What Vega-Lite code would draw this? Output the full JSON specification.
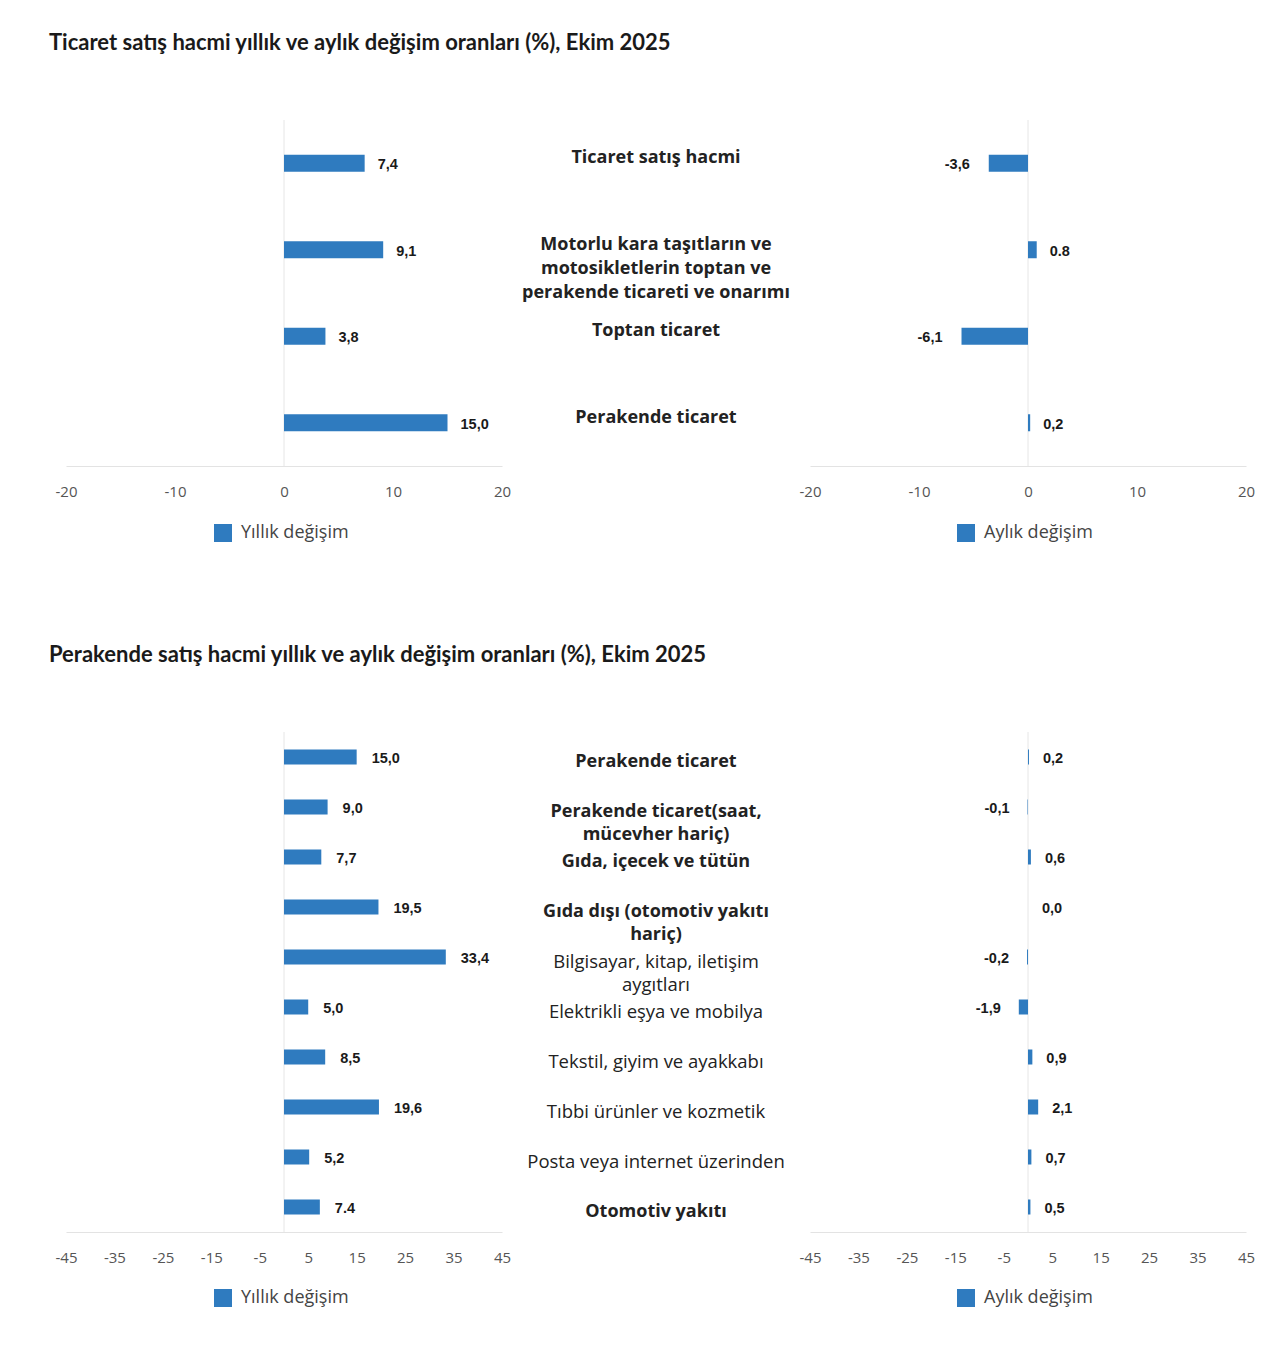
{
  "$schema": "https://vega.github.io/schema/vega-lite/v6.json",
  "background": "white",
  "padding": {"left": 49, "top": 31, "right": 10, "bottom": 30},
  "config": {
    "locale": {"number": {"decimal": ".", "thousands": ",", "grouping": [3], "currency": ["", ""], "minus": "-"}},
    "view": {"stroke": null},
    "font": "Open Sans",
    "axis": {"domainColor": "#e3e3e3", "domainWidth": 1, "ticks": false, "grid": false, "labelColor": "#555555", "labelFont": "Open Sans", "labelFontSize": 15, "labelPadding": 18, "title": null, "labelFlush": false},
    "legend": {"orient": "none", "symbolType": "square", "symbolSize": 324, "symbolStrokeWidth": 0, "labelFont": "Open Sans", "labelFontSize": 18, "labelColor": "#444444", "labelOffset": 9, "title": null},
    "title": {"font": "Lato", "fontSize": 22, "fontWeight": "bold", "color": "#1a1a1a", "anchor": "start", "frame": "group", "dx": -17, "offset": 65}
  },
  "datasets": {
    "ticaret": [
      {"kategori": "Ticaret satış hacmi", "etiket": "Ticaret satış hacmi", "yillik": 7.4, "yillik_metin": "7,4", "aylik": -3.6, "aylik_metin": "-3,6"},
      {"kategori": "Motorlu kara taşıtların ve motosikletlerin toptan ve perakende ticareti ve onarımı", "etiket": "Motorlu kara taşıtların ve\nmotosikletlerin toptan ve\nperakende ticareti ve onarımı", "yillik": 9.1, "yillik_metin": "9,1", "aylik": 0.8, "aylik_metin": "0.8"},
      {"kategori": "Toptan ticaret", "etiket": "Toptan ticaret", "yillik": 3.8, "yillik_metin": "3,8", "aylik": -6.1, "aylik_metin": "-6,1"},
      {"kategori": "Perakende ticaret", "etiket": "Perakende ticaret", "yillik": 15.0, "yillik_metin": "15,0", "aylik": 0.2, "aylik_metin": "0,2"}
    ],
    "perakende": [
      {"kategori": "Perakende ticaret", "etiket": "Perakende ticaret", "duzey": "ana", "yillik": 15.0, "yillik_metin": "15,0", "aylik": 0.2, "aylik_metin": "0,2"},
      {"kategori": "Perakende ticaret(saat, mücevher hariç)", "etiket": "Perakende ticaret(saat,\nmücevher hariç)", "duzey": "ana", "yillik": 9.0, "yillik_metin": "9,0", "aylik": -0.1, "aylik_metin": "-0,1"},
      {"kategori": "Gıda, içecek ve tütün", "etiket": "Gıda, içecek ve tütün", "duzey": "ana", "yillik": 7.7, "yillik_metin": "7,7", "aylik": 0.6, "aylik_metin": "0,6"},
      {"kategori": "Gıda dışı (otomotiv yakıtı hariç)", "etiket": "Gıda dışı (otomotiv yakıtı\nhariç)", "duzey": "ana", "yillik": 19.5, "yillik_metin": "19,5", "aylik": 0.0, "aylik_metin": "0,0"},
      {"kategori": "Bilgisayar, kitap, iletişim aygıtları", "etiket": "Bilgisayar, kitap, iletişim\naygıtları", "duzey": "alt", "yillik": 33.4, "yillik_metin": "33,4", "aylik": -0.2, "aylik_metin": "-0,2"},
      {"kategori": "Elektrikli eşya ve mobilya", "etiket": "Elektrikli eşya ve mobilya", "duzey": "alt", "yillik": 5.0, "yillik_metin": "5,0", "aylik": -1.9, "aylik_metin": "-1,9"},
      {"kategori": "Tekstil, giyim ve ayakkabı", "etiket": "Tekstil, giyim ve ayakkabı", "duzey": "alt", "yillik": 8.5, "yillik_metin": "8,5", "aylik": 0.9, "aylik_metin": "0,9"},
      {"kategori": "Tıbbi ürünler ve kozmetik", "etiket": "Tıbbi ürünler ve kozmetik", "duzey": "alt", "yillik": 19.6, "yillik_metin": "19,6", "aylik": 2.1, "aylik_metin": "2,1"},
      {"kategori": "Posta veya internet üzerinden", "etiket": "Posta veya internet üzerinden", "duzey": "alt", "yillik": 5.2, "yillik_metin": "5,2", "aylik": 0.7, "aylik_metin": "0,7"},
      {"kategori": "Otomotiv yakıtı", "etiket": "Otomotiv yakıtı", "duzey": "ana", "yillik": 7.4, "yillik_metin": "7.4", "aylik": 0.5, "aylik_metin": "0,5"}
    ]
  },
  "bounds": "flush",
  "spacing": 612,
  "resolve": {"scale": {"color": "independent", "x": "independent", "y": "independent"}, "legend": {"color": "independent"}},
  "vconcat": [
    {
      "title": {"text": "Ticaret satış hacmi yıllık ve aylık değişim oranları (%), Ekim 2025"},
      "bounds": "flush",
      "spacing": 0,
      "resolve": {"scale": {"color": "independent", "x": "independent", "y": "independent"}, "legend": {"color": "independent"}},
      "hconcat": [
        {
          "width": 436, "height": 346,
          "data": {"name": "ticaret"},
          "layer": [
            {"data": {"values": [{}]}, "mark": {"type": "rule", "color": "#e6e6e6", "strokeWidth": 1}, "encoding": {"x": {"datum": 0, "type": "quantitative", "scale": {"domain": [-20, 20], "nice": false, "zero": false}, "axis": {"values": [-20, -10, 0, 10, 20]}}}},
            {"mark": {"type": "bar", "size": 17}, "encoding": {
              "x": {"field": "yillik", "type": "quantitative", "scale": {"domain": [-20, 20], "nice": false, "zero": false}, "axis": {"values": [-20, -10, 0, 10, 20]}},
              "y": {"field": "kategori", "type": "nominal", "sort": null, "axis": null},
              "color": {"datum": "Yıllık değişim", "type": "nominal", "scale": {"range": ["#2f7bbf"]}, "legend": {"legendX": 148, "legendY": 404}}}},
            {"transform": [{"filter": "datum.yillik >= 0"}], "mark": {"type": "text", "align": "left", "baseline": "middle", "dx": 13, "dy": 2, "font": "Liberation Sans", "fontWeight": "bold", "fontSize": 14.5, "color": "#1a1a1a"}, "encoding": {
              "x": {"field": "yillik", "type": "quantitative"},
              "y": {"field": "kategori", "type": "nominal", "sort": null},
              "text": {"field": "yillik_metin"}}},
            {"transform": [{"filter": "datum.yillik < 0"}], "mark": {"type": "text", "align": "right", "baseline": "middle", "dx": -19, "dy": 2, "font": "Liberation Sans", "fontWeight": "bold", "fontSize": 14.5, "color": "#1a1a1a"}, "encoding": {
              "x": {"field": "yillik", "type": "quantitative"},
              "y": {"field": "kategori", "type": "nominal", "sort": null},
              "text": {"field": "yillik_metin"}}}
          ]
        },
        {
          "width": 308, "height": 346,
          "data": {"name": "ticaret"},
          "mark": {"type": "text", "font": "Open Sans", "fontWeight": "bold", "fontSize": 18, "baseline": "top", "dy": -14, "lineHeight": 24, "lineBreak": "\n", "color": "#222222"},
          "encoding": {
            "y": {"field": "kategori", "type": "nominal", "sort": null, "axis": null},
            "text": {"field": "etiket"}
          }
        },
        {
          "width": 436, "height": 346,
          "data": {"name": "ticaret"},
          "layer": [
            {"data": {"values": [{}]}, "mark": {"type": "rule", "color": "#e6e6e6", "strokeWidth": 1}, "encoding": {"x": {"datum": 0, "type": "quantitative", "scale": {"domain": [-20, 20], "nice": false, "zero": false}, "axis": {"values": [-20, -10, 0, 10, 20]}}}},
            {"mark": {"type": "bar", "size": 17}, "encoding": {
              "x": {"field": "aylik", "type": "quantitative", "scale": {"domain": [-20, 20], "nice": false, "zero": false}, "axis": {"values": [-20, -10, 0, 10, 20]}},
              "y": {"field": "kategori", "type": "nominal", "sort": null, "axis": null},
              "color": {"datum": "Aylık değişim", "type": "nominal", "scale": {"range": ["#2f7bbf"]}, "legend": {"legendX": 147, "legendY": 404}}}},
            {"transform": [{"filter": "datum.aylik >= 0"}], "mark": {"type": "text", "align": "left", "baseline": "middle", "dx": 13, "dy": 2, "font": "Liberation Sans", "fontWeight": "bold", "fontSize": 14.5, "color": "#1a1a1a"}, "encoding": {
              "x": {"field": "aylik", "type": "quantitative"},
              "y": {"field": "kategori", "type": "nominal", "sort": null},
              "text": {"field": "aylik_metin"}}},
            {"transform": [{"filter": "datum.aylik < 0"}], "mark": {"type": "text", "align": "right", "baseline": "middle", "dx": -19, "dy": 2, "font": "Liberation Sans", "fontWeight": "bold", "fontSize": 14.5, "color": "#1a1a1a"}, "encoding": {
              "x": {"field": "aylik", "type": "quantitative"},
              "y": {"field": "kategori", "type": "nominal", "sort": null},
              "text": {"field": "aylik_metin"}}}
          ]
        }
      ]
    },
    {
      "title": {"text": "Perakende satış hacmi yıllık ve aylık değişim oranları (%), Ekim 2025"},
      "bounds": "flush",
      "spacing": 0,
      "resolve": {"scale": {"color": "independent", "x": "independent", "y": "independent"}, "legend": {"color": "independent"}},
      "hconcat": [
        {
          "width": 436, "height": 500,
          "data": {"name": "perakende"},
          "layer": [
            {"data": {"values": [{}]}, "mark": {"type": "rule", "color": "#e6e6e6", "strokeWidth": 1}, "encoding": {"x": {"datum": 0, "type": "quantitative", "scale": {"domain": [-45, 45], "nice": false, "zero": false}, "axis": {"values": [-45, -35, -25, -15, -5, 5, 15, 25, 35, 45]}}}},
            {"mark": {"type": "bar", "size": 15}, "encoding": {
              "x": {"field": "yillik", "type": "quantitative", "scale": {"domain": [-45, 45], "nice": false, "zero": false}, "axis": {"values": [-45, -35, -25, -15, -5, 5, 15, 25, 35, 45]}},
              "y": {"field": "kategori", "type": "nominal", "sort": null, "axis": null},
              "color": {"datum": "Yıllık değişim", "type": "nominal", "scale": {"range": ["#2f7bbf"]}, "legend": {"legendX": 148, "legendY": 557}}}},
            {"transform": [{"filter": "datum.yillik >= 0"}], "mark": {"type": "text", "align": "left", "baseline": "middle", "dx": 15, "dy": 2, "font": "Liberation Sans", "fontWeight": "bold", "fontSize": 14.5, "color": "#1a1a1a"}, "encoding": {
              "x": {"field": "yillik", "type": "quantitative"},
              "y": {"field": "kategori", "type": "nominal", "sort": null},
              "text": {"field": "yillik_metin"}}},
            {"transform": [{"filter": "datum.yillik < 0"}], "mark": {"type": "text", "align": "right", "baseline": "middle", "dx": -16, "dy": 2, "font": "Liberation Sans", "fontWeight": "bold", "fontSize": 14.5, "color": "#1a1a1a"}, "encoding": {
              "x": {"field": "yillik", "type": "quantitative"},
              "y": {"field": "kategori", "type": "nominal", "sort": null},
              "text": {"field": "yillik_metin"}}}
          ]
        },
        {
          "width": 308, "height": 500,
          "data": {"name": "perakende"},
          "mark": {"type": "text", "font": "Open Sans", "fontWeight": {"expr": "datum.duzey == 'ana' ? 'bold' : 'normal'"}, "fontSize": {"expr": "datum.duzey == 'ana' ? 18 : 18.5"}, "baseline": "top", "dy": -4, "lineHeight": 23, "lineBreak": "\n", "color": "#222222"},
          "encoding": {
            "y": {"field": "kategori", "type": "nominal", "sort": null, "axis": null},
            "text": {"field": "etiket"}
          }
        },
        {
          "width": 436, "height": 500,
          "data": {"name": "perakende"},
          "layer": [
            {"data": {"values": [{}]}, "mark": {"type": "rule", "color": "#e6e6e6", "strokeWidth": 1}, "encoding": {"x": {"datum": 0, "type": "quantitative", "scale": {"domain": [-45, 45], "nice": false, "zero": false}, "axis": {"values": [-45, -35, -25, -15, -5, 5, 15, 25, 35, 45]}}}},
            {"mark": {"type": "bar", "size": 15}, "encoding": {
              "x": {"field": "aylik", "type": "quantitative", "scale": {"domain": [-45, 45], "nice": false, "zero": false}, "axis": {"values": [-45, -35, -25, -15, -5, 5, 15, 25, 35, 45]}},
              "y": {"field": "kategori", "type": "nominal", "sort": null, "axis": null},
              "color": {"datum": "Aylık değişim", "type": "nominal", "scale": {"range": ["#2f7bbf"]}, "legend": {"legendX": 147, "legendY": 557}}}},
            {"transform": [{"filter": "datum.aylik >= 0"}], "mark": {"type": "text", "align": "left", "baseline": "middle", "dx": 14, "dy": 2, "font": "Liberation Sans", "fontWeight": "bold", "fontSize": 14.5, "color": "#1a1a1a"}, "encoding": {
              "x": {"field": "aylik", "type": "quantitative"},
              "y": {"field": "kategori", "type": "nominal", "sort": null},
              "text": {"field": "aylik_metin"}}},
            {"transform": [{"filter": "datum.aylik < 0"}], "mark": {"type": "text", "align": "right", "baseline": "middle", "dx": -18, "dy": 2, "font": "Liberation Sans", "fontWeight": "bold", "fontSize": 14.5, "color": "#1a1a1a"}, "encoding": {
              "x": {"field": "aylik", "type": "quantitative"},
              "y": {"field": "kategori", "type": "nominal", "sort": null},
              "text": {"field": "aylik_metin"}}}
          ]
        }
      ]
    }
  ]
}
